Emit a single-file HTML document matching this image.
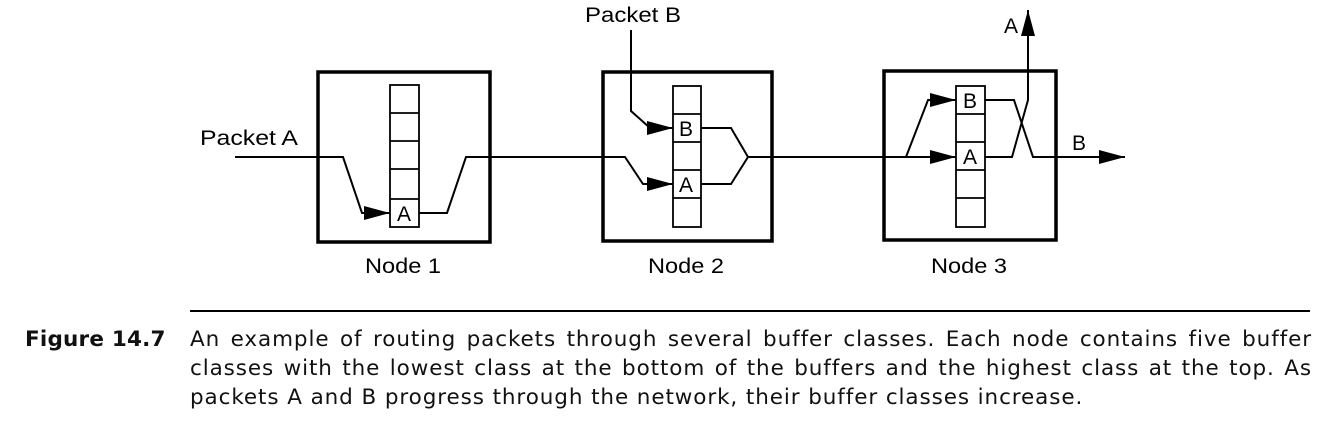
<!DOCTYPE html>
<html><head><meta charset="utf-8"><style>
html,body{margin:0;padding:0;background:#fff;}
body{width:1330px;height:438px;position:relative;overflow:hidden;font-family:"DejaVu Sans","Liberation Sans",sans-serif;}
.ln{position:absolute;left:190px;width:1122px;font-size:21.5px;letter-spacing:0.9px;line-height:28px;color:#111;white-space:nowrap;}
.j{text-align:justify;text-align-last:justify;white-space:normal;}
.fig{position:absolute;left:25px;top:326px;font-size:21.5px;letter-spacing:0.2px;line-height:28px;font-weight:bold;color:#111;}
</style></head><body>
<svg width="1330" height="438" style="position:absolute;left:0;top:0" font-family="Liberation Sans, sans-serif">
<defs><marker id="ar" markerWidth="26" markerHeight="14" refX="26" refY="7" orient="auto" markerUnits="userSpaceOnUse"><path d="M0,0 L26,7 L0,14 z" fill="#000"/></marker></defs>
<g fill="none" stroke="#000">
<rect x="318" y="72" width="172" height="170" stroke-width="3.5"/>
<rect x="603" y="72" width="169" height="169" stroke-width="3.5"/>
<rect x="884" y="71" width="172" height="169" stroke-width="3.5"/>
<g stroke-width="1.8" fill="#fff">
<rect x="390" y="85" width="29" height="142"/>
<rect x="673" y="86" width="28" height="141"/>
<rect x="956" y="86" width="29" height="141"/>
</g>
<g stroke-width="1.8">
<path d="M390 113H419M390 141H419M390 169H419M390 199H419"/>
<path d="M673 114H701M673 142H701M673 170H701M673 198H701"/>
<path d="M956 114H985M956 142H985M956 170H985M956 198H985"/>
</g>
<g stroke-width="2">
<path d="M235 157H343L362 213H390" marker-end="url(#ar)"/>
<path d="M419 213H447L466 157H625L643 184H673" marker-end="url(#ar)"/>
<path d="M631 30V111L650 128H673" marker-end="url(#ar)"/>
<path d="M701 128H731L748 157L731 184H701M748 157H906H956" marker-end="url(#ar)"/>
<path d="M906 157L928 100H956" marker-end="url(#ar)"/>
<path d="M985 100H1014L1033 157H1125" marker-end="url(#ar)"/>
<path d="M985 157H1012L1028 100V10" marker-end="url(#ar)"/>
</g>
<line x1="190" y1="311" x2="1310" y2="311" stroke-width="2"/>
</g>
<g font-size="21" fill="#000">
<text x="200" y="145" textLength="98" lengthAdjust="spacingAndGlyphs">Packet A</text>
<text x="585" y="22" textLength="96" lengthAdjust="spacingAndGlyphs">Packet B</text>
<text x="365" y="273" textLength="76" lengthAdjust="spacingAndGlyphs">Node 1</text>
<text x="648" y="273" textLength="76" lengthAdjust="spacingAndGlyphs">Node 2</text>
<text x="931" y="273" textLength="76" lengthAdjust="spacingAndGlyphs">Node 3</text>
<text x="397" y="221">A</text>
<text x="679" y="192">A</text>
<text x="679" y="136">B</text>
<text x="963" y="164">A</text>
<text x="963" y="108">B</text>
<text x="1004" y="33">A</text>
<text x="1072" y="150">B</text>
</g>
</svg>
<div class="fig">Figure 14.7</div>
<div class="ln j" style="top:326px">An example of routing packets through several buffer classes. Each node contains five buffer</div>
<div class="ln j" style="top:355px">classes with the lowest class at the bottom of the buffers and the highest class at the top. As</div>
<div class="ln" style="top:384px">packets A and B progress through the network, their buffer classes increase.</div>
</body></html>
